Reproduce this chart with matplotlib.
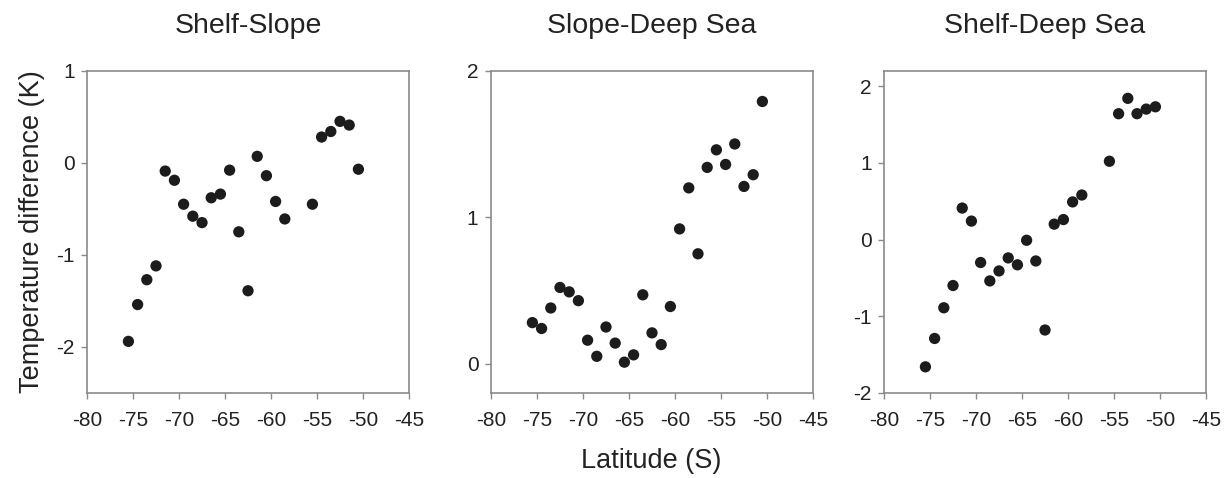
import matplotlib
matplotlib.use('Agg')
import matplotlib.pyplot as plt
import numpy as np

plt.rcParams['font.family'] = ['Liberation Sans', 'DejaVu Sans']
plt.rcParams['axes.unicode_minus'] = False

# Latitudes (half-degree centres)
lat_a = [-75.5, -74.5, -73.5, -72.5, -71.5, -70.5, -69.5, -68.5, -67.5, -66.5, -65.5, -64.5,
         -63.5, -62.5, -61.5, -60.5, -59.5, -58.5, -55.5, -54.5, -53.5, -52.5, -51.5, -50.5]
lat_b = [-75.5, -74.5, -73.5, -72.5, -71.5, -70.5, -69.5, -68.5, -67.5, -66.5, -65.5, -64.5,
         -63.5, -62.5, -61.5, -60.5, -59.5, -58.5, -57.5, -56.5, -55.5, -54.5, -53.5, -52.5,
         -51.5, -50.5]

shelf_slope = [-1.94, -1.54, -1.27, -1.12, -0.09, -0.19, -0.45, -0.58, -0.65, -0.38, -0.34, -0.08,
               -0.75, -1.39, 0.07, -0.14, -0.42, -0.61, -0.45, 0.28, 0.34, 0.45, 0.41, -0.07]
slope_deep = [0.28, 0.24, 0.38, 0.52, 0.49, 0.43, 0.16, 0.05, 0.25, 0.14, 0.01, 0.06,
              0.47, 0.21, 0.13, 0.39, 0.92, 1.20, 0.75, 1.34, 1.46, 1.36, 1.50, 1.21,
              1.29, 1.79]
shelf_deep = [-1.66, -1.29, -0.89, -0.60, 0.41, 0.24, -0.30, -0.54, -0.41, -0.24, -0.33, -0.01,
              -0.28, -1.18, 0.20, 0.26, 0.49, 0.58, 1.02, 1.64, 1.84, 1.64, 1.70, 1.73]

titles = ['Shelf-Slope', 'Slope-Deep Sea', 'Shelf-Deep Sea']
xs = [lat_a, lat_b, lat_a]
ys = [shelf_slope, slope_deep, shelf_deep]
ylims = [(-2.5, 1), (-0.2, 2), (-2, 2.2)]
yticks = [[-2, -1, 0, 1], [0, 1, 2], [-2, -1, 0, 1, 2]]
lefts = [0.0708, 0.3995, 0.7193]

fig = plt.figure(figsize=(12.29, 4.78), dpi=100)
spine_col = '#8a8a8a'

for i in range(3):
    ax = fig.add_axes([lefts[i], 0.178, 0.262, 0.674])
    ax.scatter(xs[i], ys[i], s=66, color='#1c1c1c', edgecolors='none', zorder=3)
    ax.set_xlim(-80, -45)
    ax.set_ylim(*ylims[i])
    ax.set_xticks(np.arange(-80, -44, 5))
    ax.set_yticks(yticks[i])
    ax.set_title(titles[i], fontsize=20.5, pad=27, color='#222222')
    for sp in ax.spines.values():
        sp.set_color(spine_col)
        sp.set_linewidth(1.2)
    ax.tick_params(direction='out', length=4, width=1.0, color=spine_col,
                   labelsize=15, labelcolor='#222222')
    ax.tick_params(axis='x', pad=9)
    ax.tick_params(axis='y', pad=5)
    if i == 0:
        ax.set_ylabel('Temperature difference (K)', fontsize=19.5, color='#222222', labelpad=8)

fig.text(0.53, 0.035, 'Latitude (S)', fontsize=19.5, ha='center', va='center', color='#222222')

fig.savefig('out.png', dpi=100, facecolor='white')
